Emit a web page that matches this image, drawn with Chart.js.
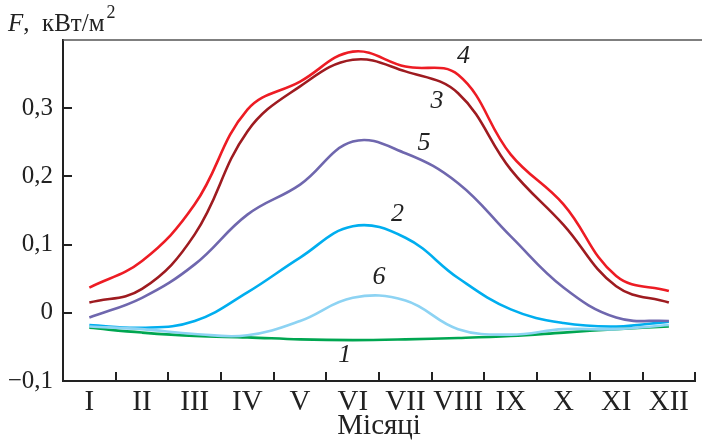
<!DOCTYPE html>
<html>
<head>
<meta charset="utf-8">
<script src="https://cdn.jsdelivr.net/npm/chart.js@4.4.0/dist/chart.umd.min.js"></script>
<style>
  html, body { margin: 0; padding: 0; background: #fff; }
  #wrap { width: 702px; height: 447px; position: relative; }
  .probe { position: absolute; left: 0; top: 0; font-family: 'Liberation Serif'; color: transparent; }
</style>
</head>
<body>
<span class="probe">Місяці 0,1 <i>F 123</i></span>
<div id="wrap"><canvas id="chart"></canvas></div>
<script>
const months = ['I', 'II', 'III', 'IV', 'V', 'VI', 'VII', 'VIII', 'IX', 'X', 'XI', 'XII']

// F, кВт/м2 for each curve
const curve1 = [-0.022, -0.029, -0.034, -0.036, -0.039, -0.040, -0.039, -0.037, -0.034, -0.029, -0.024, -0.020]
const curve2 = [-0.018, -0.022, -0.012, 0.030, 0.081, 0.127, 0.110, 0.051, 0.005, -0.015, -0.020, -0.013]
const curve3 = [0.015, 0.035, 0.115, 0.266, 0.332, 0.371, 0.354, 0.322, 0.210, 0.129, 0.039, 0.015]
const curve4 = [0.037, 0.076, 0.159, 0.298, 0.339, 0.383, 0.361, 0.349, 0.232, 0.159, 0.054, 0.032]
const curve5 = [-0.007, 0.022, 0.071, 0.144, 0.188, 0.251, 0.234, 0.190, 0.112, 0.037, -0.007, -0.012]
const curve6 = [-0.020, -0.024, -0.031, -0.033, -0.012, 0.022, 0.018, -0.024, -0.032, -0.024, -0.024, -0.018]

// curve numbers: [text, month index, value]
const curveLabels = [
  ['4', 7.1, 0.376],
  ['3', 6.6, 0.310],
  ['5', 6.35, 0.248],
  ['2', 5.85, 0.144],
  ['6', 5.5, 0.052],
  ['1', 4.85, -0.062]
]

const fmt = v => {
  if (Math.abs(v) < 1e-9) return '0'
  return v.toFixed(1).replace('.', ',').replace('-', '\u2212')
}

const serif = "'Liberation Serif', serif"

const extras = {
  id: 'extras',
  afterDraw(chart) {
    const ctx = chart.ctx
    const a = chart.chartArea
    const x = chart.scales.x, y = chart.scales.y
    ctx.save()
    // top frame line
    ctx.strokeStyle = '#555'
    ctx.lineWidth = 1.5
    ctx.beginPath()
    ctx.moveTo(a.left, a.top)
    ctx.lineTo(chart.width, a.top)
    ctx.stroke()
    // curve numbers
    ctx.fillStyle = '#222'
    ctx.font = 'italic 26px ' + serif
    ctx.textAlign = 'center'
    ctx.textBaseline = 'middle'
    curveLabels.forEach(l => {
      ctx.fillText(l[0], x.getPixelForValue(l[1]), y.getPixelForValue(l[2]))
    })
    // y axis title
    ctx.textAlign = 'left'
    ctx.textBaseline = 'alphabetic'
    ctx.font = 'italic 25px ' + serif
    ctx.fillText('F', 8, 31)
    let px = 8 + ctx.measureText('F').width
    ctx.font = '25px ' + serif
    ctx.fillText(',  кВт/м', px, 31)
    px += ctx.measureText(',  кВт/м').width
    ctx.font = '18px ' + serif
    ctx.fillText('2', px + 2, 18)
    ctx.restore()
  }
}

const mk = (data, color) => ({
  data: data,
  borderColor: color,
  borderWidth: 2.6,
  pointRadius: 0,
  tension: 0.4,
  fill: false
})

function draw() {
  new Chart(document.getElementById('chart'), {
    type: 'line',
    data: {
      labels: months,
      datasets: [
        mk(curve4, '#ed1c24'),
        mk(curve3, '#9e1b20'),
        mk(curve5, '#6f67ae'),
        mk(curve6, '#8dd3f3'),
        mk(curve2, '#00aeef'),
        mk(curve1, '#00a651')
      ]
    },
    options: {
      responsive: true,
      maintainAspectRatio: false,
      animation: false,
      layout: { padding: { top: 40, right: 0, bottom: 0, left: 0 } },
      plugins: { legend: { display: false }, tooltip: { enabled: false } },
      scales: {
        x: {
          offset: true,
          grid: { offset: true, drawOnChartArea: false, tickLength: -9, color: '#222', lineWidth: 2 },
          border: { color: '#222', width: 2 },
          ticks: { color: '#222', font: { family: serif, size: 29 }, padding: 13, maxRotation: 0, autoSkip: false },
          title: { display: true, text: 'Місяці', color: '#222', font: { family: serif, size: 29 }, padding: { top: 0, bottom: 3 } },
          afterFit: s => { s.height = 66 }
        },
        y: {
          min: -0.1,
          max: 0.4,
          grid: { drawOnChartArea: false, tickLength: -9, color: '#222', lineWidth: 2 },
          border: { color: '#222', width: 2 },
          ticks: { stepSize: 0.1, color: '#222', font: { family: serif, size: 25 }, padding: 19, callback: v => fmt(v) },
          afterBuildTicks: s => { s.ticks = s.ticks.filter(t => t.value < 0.35) },
          afterFit: s => { s.width = 63 }
        }
      }
    },
    plugins: [extras]
  })
}

Promise.all([
  document.fonts.load("25px 'Liberation Serif'"),
  document.fonts.load("italic 25px 'Liberation Serif'")
]).then(draw, draw)
</script>
</body>
</html>
